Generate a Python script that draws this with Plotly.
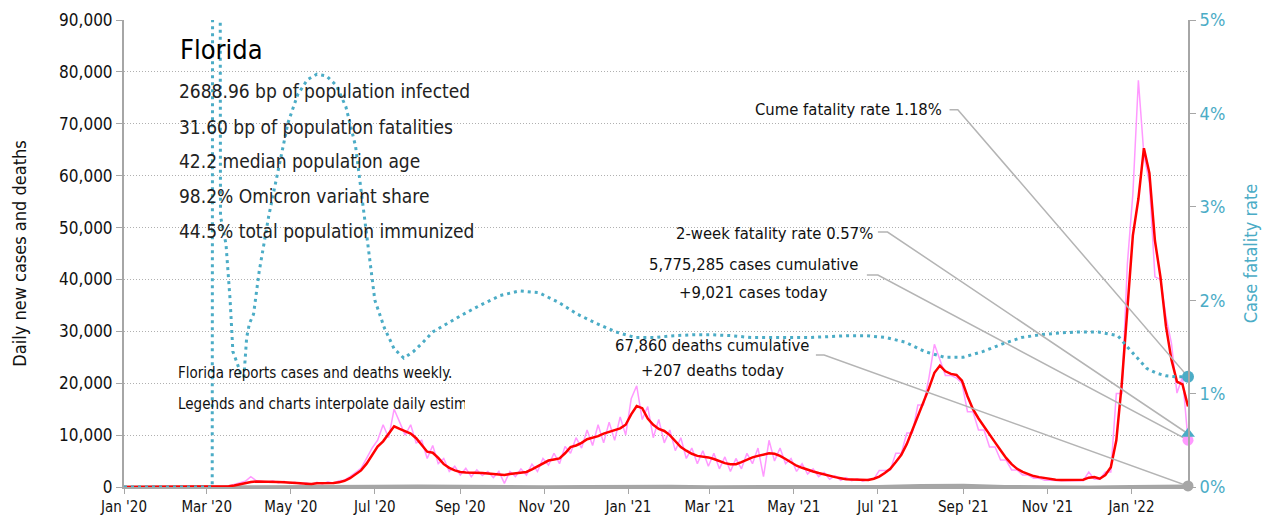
import pandas as pd
import plotly.graph_objects as go

FONT = "DejaVu Sans Condensed, Liberation Sans Narrow, Roboto, sans-serif"

# ---- data -----------------------------------------------------------------
grid_start = "2020-01-01"
grid_n = 194  # 4-day spaced sample points ending 2022-02-11
case_dates = pd.date_range(grid_start, periods=grid_n, freq="4D")

cases_avg = [
    0, 0, 0, 0, 0, 0, 0, 0, 0, 0,
    0, 0, 0, 0, 0, 0, 0, 15, 40, 130,
    300, 550, 800, 950, 1050, 1050, 1000, 1000, 950, 900,
    800, 700, 700, 650, 600, 700, 700, 750, 750, 900,
    1200, 1700, 2400, 3200, 4500, 6200, 7800, 8800, 10300, 11700,
    11200, 10700, 10300, 9400, 8000, 6800, 6600, 5600, 4400, 3700,
    3200, 2900, 2800, 2800, 2700, 2700, 2600, 2500, 2400, 2300,
    2500, 2600, 2800, 2900, 3400, 4000, 4600, 5100, 5300, 5500,
    6500, 7700, 8000, 8500, 9200, 9500, 9800, 10300, 10600, 11000,
    11300, 12000, 14000, 15600, 15200, 13200, 12000, 11200, 10800, 10000,
    8800, 7700, 7000, 6400, 6000, 5900, 5700, 5400, 5000, 4600,
    4400, 4400, 4800, 5300, 5700, 6000, 6300, 6500, 6400, 6000,
    5400, 4700, 4100, 3700, 3300, 3000, 2700, 2400, 2100, 1900,
    1700, 1500, 1450, 1400, 1350, 1350, 1600, 2000, 2700, 3500,
    4800, 6200, 8300, 11000, 13500, 16500, 19000, 22000, 23400, 22300,
    21800, 21600, 20500, 17500, 15000, 13200, 11600, 10200, 8600, 7100,
    5600, 4400, 3500, 2900, 2500, 2100, 1900, 1700, 1500, 1400,
    1350, 1350, 1350, 1350, 1400, 1800, 1900, 1600, 2300, 3800,
    9000, 20000, 34500, 48500, 55500, 65300, 60500, 47500, 40500, 31000,
    24500, 20300, 19800, 15500,
]

cases_daily = [
    0, 0, 0, 0, 0, 0, 0, 0, 0, 0,
    0, 0, 0, 0, 0, 0, 0, 30, 80, 200,
    500, 900, 1100, 2000, 1200, 1100, 900, 1200, 800, 1100,
    700, 900, 600, 800, 500, 900, 600, 1000, 700, 1200,
    1300, 2000, 2800, 3600, 5500, 7500, 9000, 12000, 9500, 15000,
    12500, 10000, 12000, 8500, 9000, 5500, 8000, 4500, 5500, 3000,
    4000, 2300, 3600, 2000, 3300, 2200, 3000, 1800, 3000, 700,
    3000, 2000, 3500, 2300, 4400, 3000, 5500, 4200, 6500, 4500,
    7800, 6500, 9500, 7500, 11000, 8000, 12000, 8500, 12500, 9000,
    13500, 10000, 17000, 19500, 13000, 15500, 9500, 13000, 8500, 11000,
    7000, 9500, 5500, 7500, 4500, 7000, 4000, 6500, 3500, 5800,
    3000, 5500, 3500, 6500, 4500, 7500, 2000, 9000, 5000, 7500,
    4500, 5500, 3000, 4500, 2500, 3500, 2000, 2800, 1500, 2200,
    1300, 1800, 1200, 1600, 1100, 1500, 1500, 3200, 3200, 3300,
    6500, 6500, 10400, 10400, 15800, 15800, 21000, 27500, 24500, 21500,
    21500, 21000, 20000, 14500, 14500, 11000, 11000, 7700, 7700, 5200,
    5200, 3300, 3300, 2300, 2300, 1700, 1700, 1300, 1300, 1200,
    1200, 1200, 1200, 1200, 1200, 2900, 1500, 1500, 2900, 2900,
    18000, 18000, 43000, 56500, 78400, 64000, 58600, 40500, 40000, 32800,
    27700, 18100, 21200, 9021,
]

death_dates = [
    "2020-01-01", "2020-03-01", "2020-04-01", "2020-05-01", "2020-06-01", "2020-07-01",
    "2020-08-01", "2020-09-01", "2020-10-01", "2020-11-01", "2020-12-01",
    "2021-01-01", "2021-02-01", "2021-03-01", "2021-04-01", "2021-05-01",
    "2021-06-01", "2021-07-01", "2021-08-01", "2021-09-01", "2021-10-01",
    "2021-11-01", "2021-12-01", "2022-01-01", "2022-02-11",
]
deaths_daily = [
    0, 5, 50, 45, 40, 130, 180, 110, 70, 60, 90,
    160, 140, 70, 55, 50, 40, 80, 280, 330, 110,
    40, 20, 120, 207,
]

cfr_dates = [
    "2020-01-01", "2020-03-05", "2020-03-06", "2020-03-10", "2020-03-11",
    "2020-03-13", "2020-03-15", "2020-03-18", "2020-03-20", "2020-03-23",
    "2020-03-26", "2020-03-28", "2020-03-30", "2020-04-01", "2020-04-04",
    "2020-04-08", "2020-04-15", "2020-04-22", "2020-04-29", "2020-05-06",
    "2020-05-13", "2020-05-20", "2020-05-27", "2020-06-03", "2020-06-10",
    "2020-06-17", "2020-06-24", "2020-07-01", "2020-07-08", "2020-07-15",
    "2020-07-22", "2020-07-29", "2020-08-05", "2020-08-12", "2020-08-19",
    "2020-08-26", "2020-09-02", "2020-09-16", "2020-09-30", "2020-10-14",
    "2020-10-28", "2020-11-11", "2020-11-25", "2020-12-09", "2020-12-23",
    "2021-01-06", "2021-01-20", "2021-02-03", "2021-02-17", "2021-03-03",
    "2021-03-17", "2021-03-31", "2021-04-14", "2021-04-28", "2021-05-12",
    "2021-05-26", "2021-06-09", "2021-06-23", "2021-07-07", "2021-07-21",
    "2021-08-04", "2021-08-18", "2021-09-01", "2021-09-15", "2021-09-29",
    "2021-10-13", "2021-10-27", "2021-11-10", "2021-11-24", "2021-12-08",
    "2021-12-15", "2021-12-22", "2021-12-29", "2022-01-05", "2022-01-12",
    "2022-01-19", "2022-01-26", "2022-02-02", "2022-02-11",
]
cfr_pct = [
    0, 0, 20, 15, 2.9,
    2.75, 2.6, 2.0, 1.45, 1.33,
    1.2, 1.18, 1.6, 1.75, 1.85,
    2.3, 2.9, 3.4, 3.9, 4.2,
    4.36, 4.42, 4.4, 4.3, 4.07,
    3.65, 2.85, 2.0, 1.7, 1.48,
    1.38, 1.45, 1.55, 1.66, 1.72,
    1.78, 1.84, 1.95, 2.05, 2.1,
    2.08, 1.98, 1.85, 1.75, 1.66,
    1.6, 1.6, 1.62, 1.63, 1.63,
    1.62, 1.6, 1.6, 1.6, 1.6,
    1.61, 1.62, 1.62, 1.6, 1.55,
    1.45, 1.39, 1.39, 1.45, 1.53,
    1.6, 1.63, 1.65, 1.66, 1.66,
    1.64, 1.62, 1.5, 1.38, 1.27,
    1.22, 1.19, 1.18, 1.18,
]

two_week_cfr = 0.57
cume_cfr = 1.18
cases_today = 9021
deaths_today = 207

stat_lines = [
    "2688.96 bp of population infected",
    "31.60 bp of population fatalities",
    "42.2 median population age",
    "98.2% Omicron variant share",
    "44.5% total population immunized",
]
note_lines = [
    "Florida reports cases and deaths weekly.",
    "Legends and charts interpolate daily estimates",
]

x_tickvals = pd.date_range("2020-01-01", "2022-01-01", freq="2MS")
x_ticktext = [d.strftime("%b '%y") for d in x_tickvals]

# ---- styling --------------------------------------------------------------
TEAL = "#4bacc6"
PINK = "#ff99ff"
RED = "#ff0000"
GRAY = "#a6a6a6"
LEAD = "#b4b4b4"
end_date = case_dates[-1]

fig = go.Figure()

fig.add_trace(go.Scatter(x=case_dates, y=cases_daily, mode="lines",
                         line=dict(color=PINK, width=1.5), hoverinfo="skip"))
fig.add_trace(go.Scatter(x=death_dates, y=deaths_daily, mode="lines",
                         line=dict(color=GRAY, width=3), hoverinfo="skip"))
fig.add_trace(go.Scatter(x=case_dates, y=cases_avg, mode="lines",
                         line=dict(color=RED, width=2.5), hoverinfo="skip"))
fig.add_trace(go.Scatter(x=cfr_dates, y=cfr_pct, mode="lines", yaxis="y2",
                         line=dict(color=TEAL, width=3, dash="3px,4px"), hoverinfo="skip"))

# leader lines (label -> end point)
leaders = [
    ("2021-08-22", "2021-08-28", 4.04, cume_cfr, "y2"),
    ("2021-07-01", "2021-07-08", 2.73, two_week_cfr, "y2"),
    ("2021-06-23", "2021-07-01", 40850, cases_today, "y"),
    ("2021-05-17", "2021-05-23", 25440, deaths_today, "y"),
]
for s, m, lvl, endv, ax in leaders:
    fig.add_trace(go.Scatter(x=[s, m, end_date], y=[lvl, lvl, endv], mode="lines",
                             yaxis=ax, line=dict(color=LEAD, width=1.5), hoverinfo="skip"))

# end markers
fig.add_trace(go.Scatter(x=[end_date], y=[deaths_today], mode="markers",
                         marker=dict(color=GRAY, size=11), cliponaxis=False))
fig.add_trace(go.Scatter(x=[end_date], y=[cases_today], mode="markers",
                         marker=dict(color=PINK, size=11), cliponaxis=False))
fig.add_trace(go.Scatter(x=[end_date], y=[two_week_cfr], yaxis="y2", mode="markers",
                         marker=dict(color=TEAL, size=12, symbol="triangle-up"), cliponaxis=False))
fig.add_trace(go.Scatter(x=[end_date], y=[cume_cfr], yaxis="y2", mode="markers",
                         marker=dict(color=TEAL, size=12), cliponaxis=False))

ann = []
ann.append(dict(x=0.0505, y=0.936, xref="paper", yref="paper", text="Florida",
                showarrow=False, xanchor="left", yanchor="middle",
                font=dict(size=27, color="black")))
for t, yy in zip(stat_lines, [0.848, 0.771, 0.698, 0.623, 0.548]):
    ann.append(dict(x=0.0498, y=yy, xref="paper", yref="paper", text=t,
                    showarrow=False, xanchor="left", yanchor="middle",
                    font=dict(size=19, color="#222")))
for t, yy in zip(note_lines, [0.244, 0.178]):
    ann.append(dict(x=0.049, y=yy, xref="paper", yref="paper", text=t, width=287,
                    align="left", showarrow=False, xanchor="left", yanchor="middle",
                    font=dict(size=15, color="#111")))

ann.append(dict(x="2021-08-18", y=4.04, xref="x", yref="y2",
                text="Cume fatality rate %.2f%%" % cume_cfr,
                showarrow=False, xanchor="right", yanchor="middle",
                font=dict(size=16.5, color="#111")))
ann.append(dict(x="2021-06-29", y=2.71, xref="x", yref="y2",
                text="2-week fatality rate %.2f%%" % two_week_cfr,
                showarrow=False, xanchor="right", yanchor="middle",
                font=dict(size=16.5, color="#111")))
ann.append(dict(x="2021-04-02", y=42900, xref="x", yref="y",
                text="5,775,285 cases cumulative",
                showarrow=False, xanchor="center", yanchor="middle",
                font=dict(size=16.5, color="#111")))
ann.append(dict(x="2021-04-02", y=37500, xref="x", yref="y",
                text="+{:,} cases today".format(cases_today),
                showarrow=False, xanchor="center", yanchor="middle",
                font=dict(size=16.5, color="#111")))
ann.append(dict(x="2021-03-03", y=27300, xref="x", yref="y",
                text="67,860 deaths cumulative",
                showarrow=False, xanchor="center", yanchor="middle",
                font=dict(size=16.5, color="#111")))
ann.append(dict(x="2021-03-03", y=22500, xref="x", yref="y",
                text="+{:,} deaths today".format(deaths_today),
                showarrow=False, xanchor="center", yanchor="middle",
                font=dict(size=16.5, color="#111")))

fig.update_layout(
    width=1265, height=527,
    margin=dict(l=124, r=77, t=20, b=40, autoexpand=False),
    paper_bgcolor="white", plot_bgcolor="white",
    showlegend=False,
    font=dict(family=FONT, color="#111"),
    annotations=ann,
    xaxis=dict(
        range=["2020-01-01", end_date], tickvals=x_tickvals, ticktext=x_ticktext,
        showgrid=False, zeroline=False, showline=True, linecolor=GRAY, linewidth=2,
        ticks="outside", ticklen=5, tickcolor=GRAY, tickfont=dict(size=15, color="#111"),
        automargin=False,
    ),
    yaxis=dict(
        range=[0, 90000], dtick=10000, tickformat=",d",
        showgrid=True, gridcolor="#b0b0b0", griddash="1px,2px", gridwidth=1,
        zeroline=False, showline=True, linecolor=GRAY, linewidth=2,
        ticks="outside", ticklen=6, tickcolor=GRAY, tickfont=dict(size=17, color="#111"),
        title=dict(text="Daily new cases and deaths", font=dict(size=18, color="#111"), standoff=28),
        automargin=False,
    ),
    yaxis2=dict(
        range=[0, 5], dtick=1, ticksuffix="%", overlaying="y", side="right",
        showgrid=False, zeroline=False, showline=True, linecolor=GRAY, linewidth=2,
        ticks="outside", ticklen=6, tickcolor=GRAY, tickfont=dict(size=18, color=TEAL),
        title=dict(text="Case fatality rate", font=dict(size=18, color=TEAL), standoff=20),
        automargin=False,
    ),
)

fig.write_html("out.html", post_script="document.body.style.margin='0';",
               config={"displayModeBar": False})
